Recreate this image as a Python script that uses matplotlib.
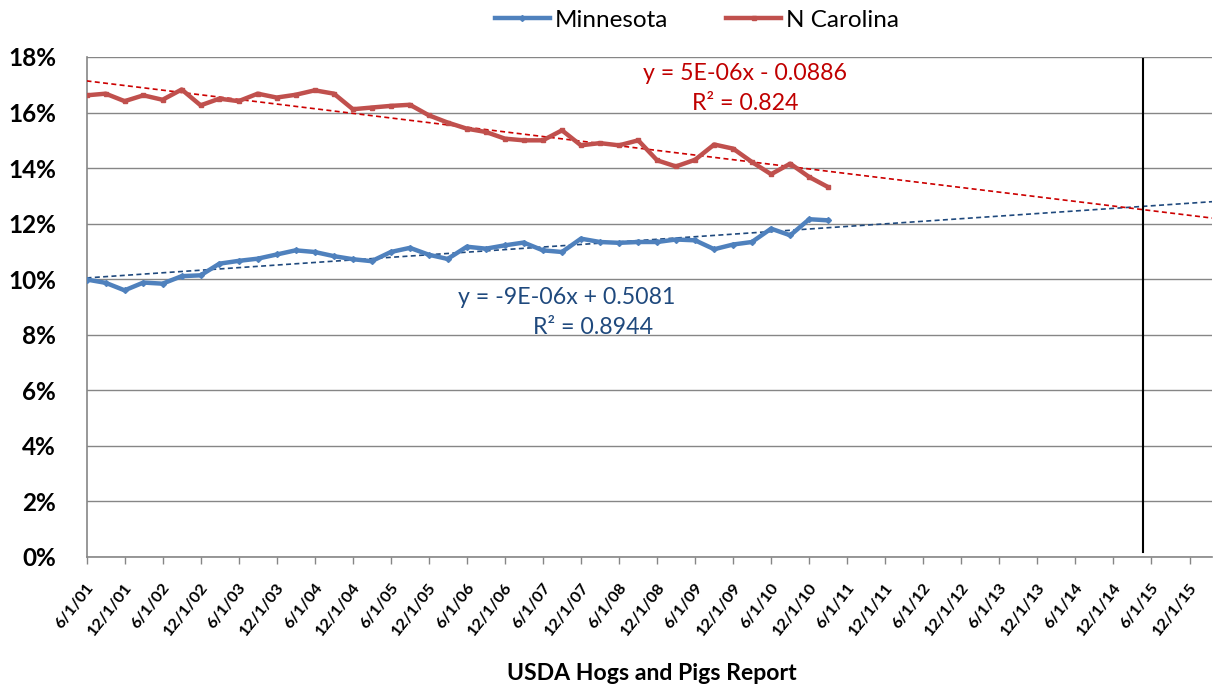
import matplotlib
matplotlib.use("Agg")
import matplotlib.pyplot as plt
import matplotlib.dates as mdates
from matplotlib.transforms import ScaledTranslation
import numpy as np
import pandas as pd

# ---- data ----
dates = pd.date_range("2001-06-01", periods=40, freq="3MS")
minnesota = [9.99, 9.87, 9.60, 9.88, 9.84, 10.11, 10.14, 10.56, 10.66, 10.74,
             10.89, 11.04, 10.98, 10.83, 10.72, 10.65, 10.98, 11.13, 10.88, 10.73,
             11.17, 11.10, 11.22, 11.32, 11.04, 10.98, 11.46, 11.34, 11.31, 11.34,
             11.34, 11.43, 11.40, 11.08, 11.25, 11.34, 11.82, 11.58, 12.16, 12.12]
n_carolina = [16.62, 16.68, 16.41, 16.62, 16.46, 16.83, 16.26, 16.50, 16.41, 16.68,
              16.54, 16.64, 16.80, 16.68, 16.12, 16.18, 16.24, 16.28, 15.90, 15.64,
              15.42, 15.30, 15.06, 15.00, 15.00, 15.36, 14.82, 14.90, 14.82, 15.00,
              14.28, 14.06, 14.30, 14.85, 14.70, 14.22, 13.78, 14.16, 13.68, 13.32]
tick_dates = pd.date_range("2001-06-01", "2015-12-01", freq="6MS")
tick_labels = [f"{d.month}/{d.day}/{d.strftime('%y')}" for d in tick_dates]
vline_date = pd.Timestamp("2015-04-20")
x_end = pd.Timestamp("2016-03-18")
eq_nc = ["y = 5E-06x - 0.0886", "R² = 0.824"]
eq_mn = ["y = -9E-06x + 0.5081", "R² = 0.8944"]

plt.rcParams['font.family'] = ['Lato', 'DejaVu Sans']

fig = plt.figure(figsize=(12.25, 6.88), dpi=100)
ax = fig.add_axes([86.5/1225, 1-557/688, (1212-86.5)/1225, 500/688])

blue = "#4F81BD"
red = "#C0504D"
mn = np.array(minnesota) / 100
nc = np.array(n_carolina) / 100

ax.plot(dates, mn, color=blue, lw=3.2, marker="D", ms=3, label="Minnesota", zorder=4)
ax.plot(dates, nc, color=red, lw=3.2, marker="s", ms=3, label="N Carolina", zorder=4)

# trend lines
xn = mdates.date2num(dates)
xs = np.array([mdates.date2num(dates[0]), mdates.date2num(x_end)])
for y, c in [(mn, "#1F497D"), (nc, "#CC0000")]:
    p = np.polyfit(xn, y, 1)
    ax.plot(mdates.num2date(xs), np.polyval(p, xs), ls=(0, (3, 2)), color=c, lw=1.2, zorder=3)

ax.plot([vline_date, vline_date], [0.0018, 0.1792], color="black", lw=1.5, zorder=5)

ax.set_ylim(0, 0.18)
ax.set_xlim(dates[0], x_end)
ax.set_yticks(np.arange(0, 0.181, 0.02))
ax.set_yticklabels([f"{int(round(v*100))}%" for v in np.arange(0, 0.181, 0.02)],
                   fontsize=17.5, fontweight="bold")
ax.set_xticks(tick_dates)
ax.set_xticklabels(tick_labels, rotation=52, ha="right", va="center", rotation_mode="anchor",
                   fontsize=11.8, fontweight="bold")
ax.tick_params(axis="y", length=0, pad=22)
ax.tick_params(axis="x", length=5, color="#868686", width=1, pad=15)
shift = ScaledTranslation(5/100, 0, fig.dpi_scale_trans)
for lab in ax.get_xticklabels():
    lab.set_transform(lab.get_transform() + shift)
ax.grid(axis="y", color="#868686", lw=1)
ax.set_axisbelow(True)
for s in ["top", "right"]:
    ax.spines[s].set_visible(False)
for s in ["left", "bottom"]:
    ax.spines[s].set_color("#868686")
    ax.spines[s].set_linewidth(1.2)

fig.text(652/1225, 1-673/688, "USDA Hogs and Pigs Report", fontsize=16.6, fontweight="bold",
         ha="center", va="center")

fig.text(745/1225, 1-73/688, eq_nc[0], color="#C00000", fontsize=16.7, ha="center", va="center")
fig.text(745/1225, 1-103/688, eq_nc[1], color="#C00000", fontsize=16.7, ha="center", va="center")
fig.text(567/1225, 1-297/688, eq_mn[0], color="#1F497D", fontsize=16.7, ha="center", va="center")
fig.text(593/1225, 1-327/688, eq_mn[1], color="#1F497D", fontsize=16.7, ha="center", va="center")

fig.legend(loc="center", bbox_to_anchor=(697/1225, 1-20/688), ncol=2, frameon=False,
           fontsize=17.5, handlelength=2.26, handletextpad=0.2, columnspacing=2.4,
           borderpad=0, borderaxespad=0)

fig.savefig("out.png", dpi=100)
